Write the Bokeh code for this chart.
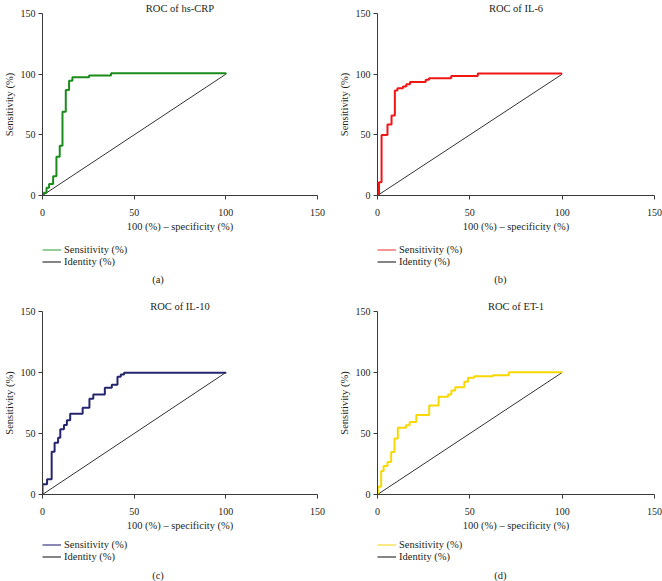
from bokeh.plotting import figure
from bokeh.layouts import column, row
from bokeh.models import Range1d, FixedTicker, Legend, LegendItem, Label
from bokeh.embed import file_html
from bokeh.resources import INLINE

# ---------------- data ----------------
ticks = [0, 50, 100, 150]
identity_x = [0, 100]
identity_y = [0, 100]

hscrp_fpr = [0, 0.7, 2.2, 3.6, 5.8, 7.6, 9.4, 10.9, 12.7, 14.5, 16.3, 25.4, 37.4, 100]
hscrp_sens = [0, 2.2, 6.3, 9.5, 15.8, 32, 41, 69, 87, 94.5, 97.5, 98.9, 100.8, 100]

il6_fpr = [0, 0.8, 2.2, 5.4, 7.6, 9.4, 10.8, 13.8, 15.6, 17.6, 26.1, 27.9, 39.9, 54.3, 100]
il6_sens = [0, 10.9, 49.9, 58.6, 66, 86.6, 88.3, 89.9, 91.6, 93.5, 95.4, 96.7, 98.4, 100.5, 100.5]

il10_fpr = [0, 0, 2.5, 5.0, 6.6, 8.5, 9.7, 11.7, 13.3, 15.1, 21.9, 25.6, 27.7, 34.0, 37.8, 40.9, 42.7, 44.5, 100]
il10_sens = [0, 8.4, 12.5, 35.1, 42.5, 46.6, 53.4, 56.9, 60.8, 66.2, 71.1, 78.5, 82, 87.5, 89.9, 96.5, 98.4, 99.7, 100]

et1_fpr = [0, 0.2, 2.0, 3.3, 5.4, 7.4, 9.2, 11.0, 15.4, 17.4, 21.0, 28.0, 33.1, 38.2, 40.0, 42.1, 47.0, 49.0, 52.4, 62.6, 71.1, 100]
et1_sens = [0, 6.3, 19.3, 23.4, 26.7, 34.9, 45.8, 54.8, 56.7, 59.4, 65.1, 73, 80.1, 82, 85.3, 88, 92.4, 95.6, 97, 97.8, 100.3, 100]

titles = ["ROC of hs-CRP", "ROC of IL-6", "ROC of IL-10", "ROC of ET-1"]
captions = ["(a)", "(b)", "(c)", "(d)"]
legend_labels = ["Sensitivity (%)", "Identity (%)"]
colors = ["#1a8c1a", "#f01616", "#25256f", "#f8d800"]
legend_colors = ["#4caf50", "#f05050", "#3a3a80", "#f8dc30"]

FONT = "Liberation Serif"
TXT = "#231f20"
AX = "#3a3a3a"
W = 331


def make_plot(title, fpr, sens, color, h, left, right, top):
    p = figure(width=W, height=h, output_backend="svg", toolbar_location=None,
               x_range=Range1d(0, 150), y_range=Range1d(0, 150),
               min_border_left=left, min_border_right=right,
               min_border_top=top, min_border_bottom=0)
    p.title.text = title
    p.title.align = "center"
    p.title.text_font = FONT
    p.title.text_font_size = "10.5px"
    p.title.text_font_style = "normal"
    p.title.text_color = TXT
    p.title.standoff = 0
    p.outline_line_color = None
    p.xgrid.visible = False
    p.ygrid.visible = False
    for ax in (p.xaxis[0], p.yaxis[0]):
        ax.ticker = FixedTicker(ticks=ticks)
        ax.minor_tick_line_color = None
        ax.major_tick_in = 0
        ax.major_tick_out = 4
        ax.axis_line_color = AX
        ax.major_tick_line_color = AX
        ax.major_label_text_font = FONT
        ax.major_label_text_font_size = "10px"
        ax.major_label_text_color = TXT
        ax.axis_label_text_font = FONT
        ax.axis_label_text_font_size = "10.5px"
        ax.axis_label_text_font_style = "normal"
        ax.axis_label_text_color = TXT
    p.xaxis.axis_label = "100 (%) \u2013 specificity (%)"
    p.yaxis.axis_label = "Sensitivity (%)"
    p.xaxis.major_label_standoff = 9
    p.xaxis.axis_label_standoff = 2
    p.yaxis.major_label_standoff = 3
    p.yaxis.axis_label_standoff = 3
    p.yaxis.major_label_orientation = "horizontal"

    p.line(identity_x, identity_y, line_color="#333333", line_width=1)
    p.step(fpr, sens, mode="after", line_color=color, line_width=2)
    return p


def make_footer(caption, fpr, sens, lcolor, h, left, right, leg_y, cap_x, cap_y):
    f = figure(width=W, height=h, output_backend="svg", toolbar_location=None,
               x_range=Range1d(0, 150), y_range=Range1d(0, h),
               min_border_left=left, min_border_right=right,
               min_border_top=0, min_border_bottom=0)
    f.axis.visible = False
    f.grid.visible = False
    f.outline_line_color = None
    l1 = f.line(fpr, sens, line_color=lcolor, line_width=1.2, visible=False)
    l2 = f.line(identity_x, identity_y, line_color="#333333", line_width=1.2, visible=False)
    leg = Legend(items=[LegendItem(label=legend_labels[0], renderers=[l1]),
                        LegendItem(label=legend_labels[1], renderers=[l2])],
                 location=(0, leg_y), orientation="vertical",
                 border_line_color=None, background_fill_alpha=0,
                 label_text_font=FONT, label_text_font_size="10.5px",
                 label_text_color=TXT, glyph_width=19, glyph_height=11,
                 label_height=11, spacing=1, padding=0, margin=0,
                 label_standoff=3, click_policy="none")
    f.add_layout(leg, "center")
    f.add_layout(Label(x=cap_x, y=cap_y, text=caption, text_font=FONT,
                       text_font_size="10.5px", text_color=TXT,
                       text_align="center", text_baseline="middle"))
    return f


pa = make_plot(titles[0], hscrp_fpr, hscrp_sens, colors[0], 234, 41, 14, 0)
pb = make_plot(titles[1], il6_fpr, il6_sens, colors[1], 234, 46, 8, 0)
pc = make_plot(titles[2], il10_fpr, il10_sens, colors[2], 243, 41, 14, 21)
pd = make_plot(titles[3], et1_fpr, et1_sens, colors[3], 243, 46, 8, 21)

fa = make_footer(captions[0], hscrp_fpr, hscrp_sens, legend_colors[0], 56, 41, 14, 23.5, 63, 11)
fb = make_footer(captions[1], il6_fpr, il6_sens, legend_colors[1], 56, 46, 8, 23.5, 66.5, 11)
fc = make_footer(captions[2], il10_fpr, il10_sens, legend_colors[2], 48, 41, 14, 19, 63, 6)
fd = make_footer(captions[3], et1_fpr, et1_sens, legend_colors[3], 48, 46, 8, 19, 66.5, 6)

layout = column(row(column(pa, fa), column(pb, fb)),
                row(column(pc, fc), column(pd, fd)))
open("out.html", "w").write(file_html(layout, INLINE))
